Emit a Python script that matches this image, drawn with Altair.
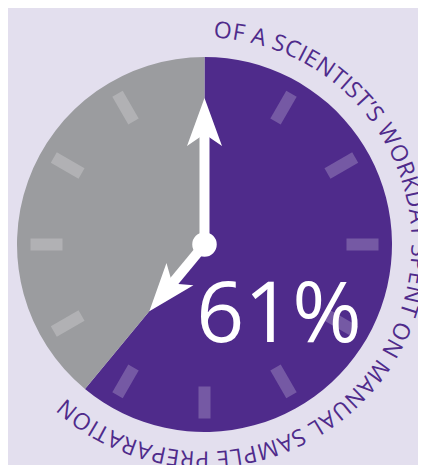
import math
import altair as alt
import pandas as pd

# ---------------- data ----------------
categories = ["Manual sample preparation", "Rest of the workday"]
shares = [61, 39]
big_label = "61%"
caption = "OF A SCIENTIST\u2019S WORKDAY SPENT ON MANUAL SAMPLE PREPARATION"
hour_ticks = [1, 2, 3, 4, 5, 6, 7, 8, 9, 10, 11]

# ---------------- style / layout ----------------
PURPLE = "#4f2b8b"
GREY = "#9b9c9f"
BG = "#e3dfee"
W, H = 410, 457          # svg size (fits inside the 426x473 window with 8px margin)
R = 187.5                # clock-face radius in px
CX, CY = 196.5, 236.5    # clock centre inside the view, px
xs = alt.Scale(domain=[-CX / R, (W - CX) / R], nice=False, zero=False)
ys = alt.Scale(domain=[-(H - CY) / R, CY / R], nice=False, zero=False)

TICK_R1, TICK_R2 = 142 / R, 174 / R
MIN_LEN, HOUR_LEN = 146.5 / R, 86.5 / R
HEAD_BACK = 32 / R          # shaft stops this far behind the arrow tip (hidden under the head)
CAP_R = 214 / R
ARROW = "M0,0 L1.75,4.8 L0,3.6 L-1.75,4.8 Z"   # tip at origin, pointing up

# approximate Open Sans advance widths (em) for laying the caption on its arc
ADV = {"A": .633, "C": .631, "D": .722, "E": .556, "F": .516, "I": .279,
       "K": .586, "L": .524, "M": .883, "N": .745, "O": .781, "P": .596,
       "R": .61, "S": .539, "T": .551, "U": .722, "W": .946, "Y": .56,
       " ": .26, "\u2019": .199}
CAP_START, CAP_END = 4.9, 219.8   # degrees (clockwise from 12 o'clock) of first/last glyph centre

X = lambda f: alt.X(f, scale=xs, axis=None)
Y = lambda f: alt.Y(f, scale=ys, axis=None)

# ---------------- pie ----------------
pie_df = pd.DataFrame({"cat": categories, "share": shares, "ord": list(range(len(shares)))})
pie = alt.Chart(pie_df).mark_arc(radius=R, strokeWidth=0).encode(
    theta=alt.Theta("share:Q", stack=True),
    color=alt.Color("cat:N", scale=alt.Scale(domain=categories, range=[PURPLE, GREY]), legend=None),
    order=alt.Order("ord:Q"),
    x=alt.XDatum(0, type="quantitative", scale=xs, axis=None),
    y=alt.YDatum(0, type="quantitative", scale=ys, axis=None),
)

# ---------------- big percentage ----------------
pct_df = pd.DataFrame({"t": [big_label], "x": [74.5 / R], "y": [-97.5 / R]})
pct = alt.Chart(pct_df).mark_text(
    font="Open Sans", fontSize=84, color="white", align="center", baseline="alphabetic"
).encode(x=X("x:Q"), y=Y("y:Q"), text="t:N")

# ---------------- hour ticks ----------------
tick_df = pd.DataFrame({"hour": hour_ticks})
ang = [h * 30 * math.pi / 180 for h in hour_ticks]
tick_df["x1"] = [TICK_R1 * math.sin(a) for a in ang]
tick_df["y1"] = [TICK_R1 * math.cos(a) for a in ang]
tick_df["x2"] = [TICK_R2 * math.sin(a) for a in ang]
tick_df["y2"] = [TICK_R2 * math.cos(a) for a in ang]
ticks = alt.Chart(tick_df).mark_rule(
    color="white", opacity=0.22, strokeWidth=12, strokeCap="butt"
).encode(x=X("x1:Q"), y=Y("y1:Q"), x2="x2:Q", y2="y2:Q")

# ---------------- hands ----------------
hour_deg = shares[0] / 100 * 360
hand_df = pd.DataFrame({"hand": ["minute", "hour"], "deg": [0.0, hour_deg],
                        "len": [MIN_LEN, HOUR_LEN]})
rad = [math.radians(d) for d in hand_df["deg"]]
hand_df["tx"] = [l * math.sin(a) for l, a in zip(hand_df["len"], rad)]
hand_df["ty"] = [l * math.cos(a) for l, a in zip(hand_df["len"], rad)]
hand_df["sx"] = [(l - HEAD_BACK) * math.sin(a) for l, a in zip(hand_df["len"], rad)]
hand_df["sy"] = [(l - HEAD_BACK) * math.cos(a) for l, a in zip(hand_df["len"], rad)]
hand_df["ox"] = 0.0
hand_df["oy"] = 0.0
shafts = alt.Chart(hand_df).mark_rule(color="white", strokeWidth=10, strokeCap="butt").encode(
    x=X("ox:Q"), y=Y("oy:Q"), x2="sx:Q", y2="sy:Q")
heads = alt.Chart(hand_df).mark_point(
    shape=ARROW, size=400, filled=True, color="white", opacity=1, strokeWidth=0
).encode(x=X("tx:Q"), y=Y("ty:Q"), angle=alt.Angle("deg:Q", scale=None))
hub = alt.Chart(hand_df.head(1)).mark_point(
    shape="circle", size=600, filled=True, color="white", opacity=1, strokeWidth=0
).encode(x=X("ox:Q"), y=Y("oy:Q"))

# ---------------- curved caption ----------------
centres, acc = [], 0.0
for ch in caption:
    w = ADV.get(ch, .6)
    centres.append(acc + w / 2)
    acc += w
c0, c1 = centres[0], centres[-1]
rows = []
for ch, c in zip(caption, centres):
    if ch == " ":
        continue
    d = CAP_START + (c - c0) * (CAP_END - CAP_START) / (c1 - c0)
    rows.append({"ch": ch, "deg": d,
                 "x": CAP_R * math.sin(math.radians(d)),
                 "y": CAP_R * math.cos(math.radians(d))})
cap_df = pd.DataFrame(rows)
cap = alt.Chart(cap_df).mark_text(
    font="Open Sans", fontSize=23, color=PURPLE, align="center", baseline="middle"
).encode(x=X("x:Q"), y=Y("y:Q"), text="ch:N", angle=alt.Angle("deg:Q", scale=None))

chart = alt.layer(pie, pct, ticks, shafts, heads, hub, cap).properties(
    width=W, height=H, padding=0, background=BG,
    autosize=alt.AutoSizeParams(type="none"),
).configure_view(stroke=None)

chart.save("out.html", embed_options={"renderer": "svg", "actions": False})
